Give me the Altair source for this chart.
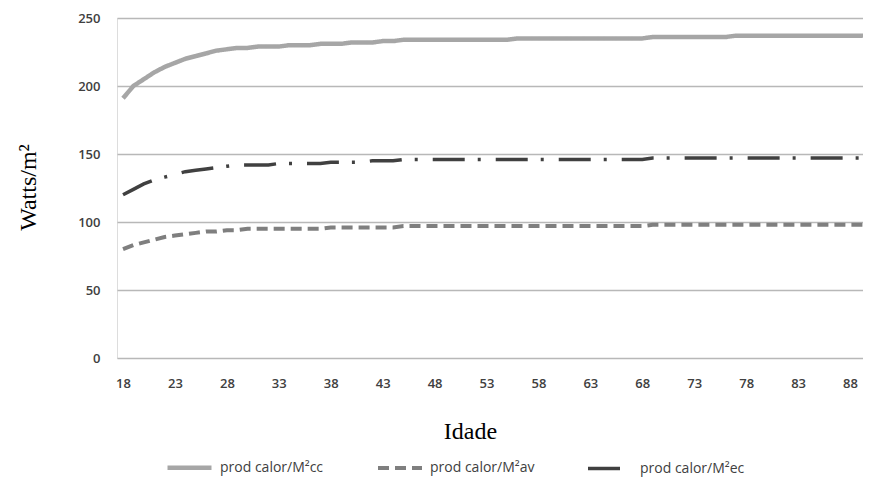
import altair as alt
import pandas as pd

ages = list(range(18, 91))

series_names = ["prod calor/M²cc", "prod calor/M²av", "prod calor/M²ec"]

cc = [191, 200, 205, 210, 214, 217, 220, 222, 224, 226, 227, 228, 228, 229, 229, 229,
      230, 230, 230, 231, 231, 231, 232, 232, 232, 233, 233] + [234] * 11 + [235] * 13 + [236] * 8 + [237] * 14
av = [80, 83, 85, 87, 89, 90, 91, 92, 93, 93, 94, 94, 95, 95, 95, 95, 95, 95, 95, 95,
      96, 96, 96, 96, 96, 96, 96] + [97] * 24 + [98] * 22
ec = [120, 124, 128, 131, 133, 135, 137, 138, 139, 140, 141, 142, 142, 142, 142, 143,
      143, 143, 143, 143, 144, 144, 144, 144, 145, 145, 145] + [146] * 24 + [147] * 22

x_ticks = [18, 23, 28, 33, 38, 43, 48, 53, 58, 63, 68, 73, 78, 83, 88]
y_ticks = [0, 50, 100, 150, 200, 250]

rows = []
for name, vals in zip(series_names, [cc, av, ec]):
    for a, v in zip(ages, vals):
        rows.append({"Idade": a, "valor": v, "serie": name})
df = pd.DataFrame(rows)

colors = ["#a6a6a6", "#7f7f7f", "#404040"]
dashes = [[1, 0], [11, 6], [32, 13, 3, 15]]
widths = [4.5, 3.5, 3.5]

chart = alt.Chart(df).mark_line(strokeCap="butt", clip=True).encode(
    x=alt.X("Idade:Q",
            scale=alt.Scale(domain=[17.42, 89.25], nice=False, zero=False),
            axis=alt.Axis(values=x_ticks, grid=False, ticks=False, domain=False,
                          labelPadding=19, labelFontSize=13, labelFont="Open Sans",
                          labelFontWeight=600, labelColor="#404040",
                          title="Idade", titleFont="Liberation Serif", titleFontSize=24,
                          titleFontWeight="normal", titleColor="#000000",
                          titleX=353, titleY=80, titleBaseline="alphabetic",
                          titleAnchor="start", titleAlign="center")),
    y=alt.Y("valor:Q",
            scale=alt.Scale(domain=[0, 250], nice=False),
            axis=alt.Axis(values=y_ticks, grid=True, gridColor="#b8b8b8", gridWidth=1.6,
                          ticks=False, domain=False, labelPadding=17, labelFontSize=13,
                          labelFont="Open Sans", labelFontWeight=600, labelColor="#404040",
                          title="Watts/m²", titleFont="Liberation Serif", titleFontSize=24,
                          titleFontWeight="normal", titleColor="#000000",
                          titleX=-82, titleY=169, titleAngle=270, titleAlign="center",
                          titleBaseline="alphabetic")),
    color=alt.Color("serie:N", scale=alt.Scale(domain=series_names, range=colors),
                    sort=series_names,
                    legend=alt.Legend(title=None, orient="none", legendX=48, legendY=425,
                                      direction="horizontal", symbolType="stroke",
                                      symbolSize=1936, labelFont="Open Sans",
                                      labelFontSize=14, labelColor="#404040",
                                      columnPadding=46, labelOffset=6, padding=0)),
    strokeDash=alt.StrokeDash("serie:N", scale=alt.Scale(domain=series_names, range=dashes),
                              sort=series_names, legend=None),
    strokeWidth=alt.StrokeWidth("serie:N", scale=alt.Scale(domain=series_names, range=widths),
                                legend=None),
).properties(
    width=746, height=340,
    autosize=alt.AutoSizeParams(type="none"),
    padding={"left": 109, "top": 10, "right": 0, "bottom": 121},
).configure_view(stroke=None).configure(background="white")

chart.save("out.html", embed_options={"renderer": "svg", "actions": False})
